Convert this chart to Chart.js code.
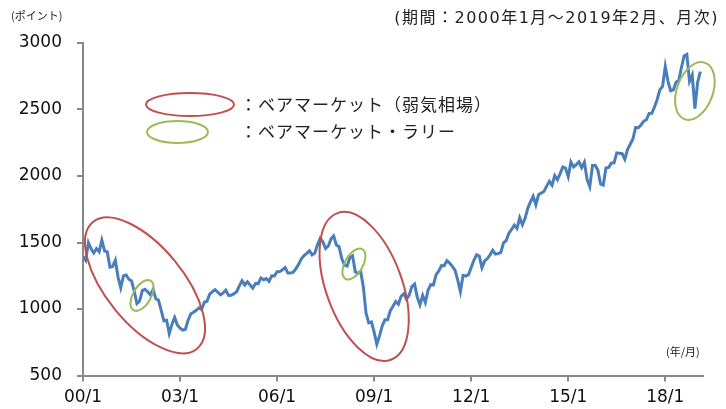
<!DOCTYPE html>
<html>
<head>
<meta charset="utf-8">
<script src="https://cdn.jsdelivr.net/npm/chart.js@4"></script>
<style>
  html, body { margin: 0; padding: 0; background: #fff; }
  #wrap { width: 726px; height: 409px; position: relative; }
</style>
</head>
<body>
<div id="wrap"><canvas id="myChart" width="726" height="409"></canvas></div>
<script>
// S&P500 月末値 (2000年1月〜2019年2月)
const indexValues = [
  1394, 1366, 1499, 1452, 1421, 1455, 1431, 1518, 1437, 1429, 1315, 1320,
  1366, 1240, 1160, 1249, 1256, 1224, 1211, 1134, 1041, 1060, 1139, 1148,
  1130, 1107, 1147, 1077, 1067, 990, 912, 916, 815, 886, 936, 880,
  856, 841, 848, 917, 964, 975, 990, 1008, 996, 1051, 1058, 1112,
  1131, 1145, 1126, 1107, 1121, 1141, 1102, 1104, 1115, 1130, 1174, 1212,
  1181, 1204, 1181, 1157, 1192, 1191, 1234, 1220, 1229, 1207, 1249, 1248,
  1280, 1281, 1295, 1311, 1270, 1270, 1277, 1304, 1336, 1378, 1401, 1418,
  1438, 1407, 1421, 1482, 1531, 1503, 1455, 1474, 1527, 1549, 1481, 1468,
  1379, 1331, 1323, 1386, 1400, 1280, 1267, 1283, 1166, 969, 896, 903,
  826, 735, 798, 873, 919, 919, 987, 1021, 1057, 1036, 1096, 1115,
  1074, 1104, 1169, 1187, 1089, 1031, 1102, 1049, 1141, 1183, 1181, 1258,
  1286, 1327, 1326, 1364, 1345, 1321, 1292, 1219, 1131, 1253, 1247, 1258,
  1312, 1366, 1408, 1398, 1310, 1362, 1379, 1407, 1441, 1412, 1416, 1426,
  1498, 1515, 1569, 1598, 1631, 1606, 1686, 1633, 1682, 1757, 1806, 1848,
  1783, 1859, 1872, 1884, 1924, 1960, 1931, 2003, 1972, 2018, 2068, 2059,
  1995, 2105, 2068, 2086, 2107, 2063, 2104, 1972, 1920, 2079, 2080, 2044,
  1940, 1932, 2060, 2065, 2097, 2099, 2174, 2171, 2168, 2126, 2199, 2239,
  2279, 2364, 2363, 2384, 2412, 2423, 2470, 2472, 2519, 2575, 2648, 2674,
  2824, 2714, 2641, 2648, 2705, 2718, 2816, 2902, 2914, 2712, 2760, 2507,
  2704, 2784
];
const tickMonths = [0, 36, 72, 108, 144, 180, 216];
const tickLabels = ['00/1', '03/1', '06/1', '09/1', '12/1', '15/1', '18/1'];

// 楕円 (中心は月インデックスと指数値, 半径はピクセル)
const bearMarkets = [
  { month: 23, value: 1178, rx: 82, ry: 38.5, angle: 50.6 },
  { month: 104.3, value: 1170, rx: 78, ry: 38, angle: 70 }
];
const bearRallies = [
  { month: 21.9, value: 1102, rx: 17, ry: 9, angle: -60 },
  { month: 100.5, value: 1338, rx: 17, ry: 9, angle: -60 },
  { month: 227, value: 2639, rx: 30, ry: 18, angle: -70 }
];

const RED = '#c0504d';
const GREEN = '#9bbb59';
const AXIS = '#898989';
const JP = "'Noto Sans CJK JP', 'DejaVu Sans', sans-serif";

const ellipsePlugin = {
  id: 'ellipses',
  afterDatasetsDraw(chart) {
    const ctx = chart.ctx;
    const xs = chart.scales.x, ys = chart.scales.y;
    function drawSet(list, color) {
      list.forEach(e => {
        ctx.beginPath();
        ctx.ellipse(xs.getPixelForValue(e.month), ys.getPixelForValue(e.value),
          e.rx, e.ry, e.angle * Math.PI / 180, 0, Math.PI * 2);
        ctx.strokeStyle = color;
        ctx.lineWidth = 2;
        ctx.stroke();
      });
    }
    ctx.save();
    drawSet(bearMarkets, RED);
    drawSet(bearRallies, GREEN);

    // 凡例
    ctx.lineWidth = 2;
    ctx.beginPath();
    ctx.ellipse(190, 104.5, 44, 11.5, 0, 0, Math.PI * 2);
    ctx.strokeStyle = RED;
    ctx.stroke();
    ctx.beginPath();
    ctx.ellipse(177.5, 132, 30.5, 11, 0, 0, Math.PI * 2);
    ctx.strokeStyle = GREEN;
    ctx.stroke();
    ctx.fillStyle = '#222';
    ctx.font = '17px ' + JP;
    ctx.textBaseline = 'middle';
    ctx.textAlign = 'left';
    ctx.letterSpacing = '1px';
    ctx.fillText('：ベアマーケット（弱気相場）', 240, 105);
    ctx.fillText('：ベアマーケット・ラリー', 240, 132);

    // 注記
    ctx.letterSpacing = '0px';
    ctx.font = '11px ' + JP;
    ctx.fillText('(ポイント)', 11, 16);
    ctx.fillText('(年/月)', 666, 352);
    ctx.font = "16px 'DejaVu Sans', 'Noto Sans CJK JP', sans-serif";
    ctx.letterSpacing = '1.5px';
    ctx.textAlign = 'right';
    ctx.fillText('(期間：2000年1月～2019年2月、月次)', 719, 19);
    ctx.restore();
  }
};

new Chart(document.getElementById('myChart').getContext('2d'), {
  type: 'line',
  data: {
    datasets: [{
      data: indexValues.map((v, i) => ({ x: i, y: v })),
      borderColor: '#4a7ebb',
      borderWidth: 3,
      pointRadius: 0,
      tension: 0,
      fill: false
    }]
  },
  options: {
    responsive: false,
    animation: false,
    layout: { padding: { left: 0, right: 23, top: 43, bottom: 0 } },
    plugins: { legend: { display: false }, tooltip: { enabled: false } },
    scales: {
      x: {
        type: 'linear',
        min: 0,
        max: 230,
        afterBuildTicks(scale) { scale.ticks = tickMonths.map(v => ({ value: v })); },
        afterFit(scale) { scale.height = 33.5; },
        ticks: {
          autoSkip: false,
          maxRotation: 0,
          padding: 6,
          color: '#111',
          font: { family: "'DejaVu Sans'", size: 17 },
          callback: (v) => tickLabels[tickMonths.indexOf(v)]
        },
        grid: { drawOnChartArea: false, drawTicks: true, tickLength: 6, color: AXIS, lineWidth: 2 },
        border: { display: true, color: AXIS, width: 2 }
      },
      y: {
        min: 500,
        max: 3000,
        afterFit(scale) { scale.width = 83; },
        ticks: {
          stepSize: 500,
          padding: 15,
          color: '#111',
          font: { family: "'DejaVu Sans'", size: 17 },
          callback: (v) => String(v)
        },
        grid: { drawOnChartArea: false, drawTicks: true, tickLength: 6, color: AXIS, lineWidth: 2 },
        border: { display: true, color: AXIS, width: 2 }
      }
    }
  },
  plugins: [ellipsePlugin]
});
</script>
</body>
</html>
